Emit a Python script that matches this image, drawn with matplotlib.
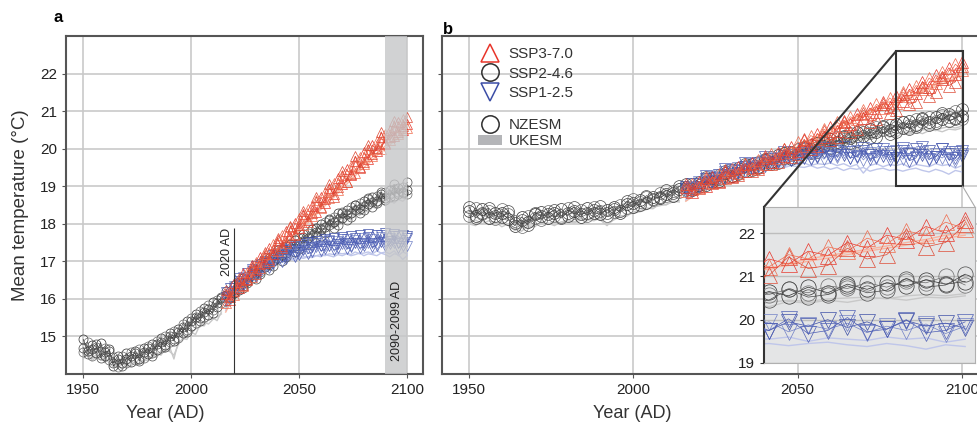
import numpy as np
import matplotlib.pyplot as plt
from matplotlib.patches import Rectangle, ConnectionPatch, Patch
from matplotlib.lines import Line2D

plt.rcParams['font.family'] = ['Liberation Sans', 'DejaVu Sans']

# years (every 2nd year)
yrs_hist = np.arange(1950, 2015, 2)   # 33 values
yrs_fut = np.arange(2016, 2101, 2)    # 43 values

# ---------------- panel a ----------------
a_hist_nz = [
    [14.92, 14.61, 14.78, 14.55, 14.83, 14.49, 14.66, 14.21, 14.40, 14.28,
     14.55, 14.33, 14.62, 14.41, 14.70, 14.52, 14.81, 14.63, 14.95, 14.77,
     15.08, 14.88, 15.21, 15.10, 15.42, 15.28, 15.60, 15.49, 15.75, 15.58,
     15.92, 15.79, 16.02],
    [14.58, 14.85, 14.47, 14.72, 14.51, 14.70, 14.38, 14.45, 14.19, 14.47,
     14.30, 14.58, 14.36, 14.66, 14.42, 14.74, 14.55, 14.88, 14.69, 15.02,
     14.86, 15.15, 14.97, 15.33, 15.18, 15.49, 15.36, 15.68, 15.51, 15.84,
     15.70, 15.97, 15.88],
    [14.70, 14.52, 14.66, 14.81, 14.43, 14.58, 14.62, 14.30, 14.48, 14.22,
     14.41, 14.49, 14.55, 14.35, 14.59, 14.68, 14.47, 14.79, 14.84, 14.72,
     15.01, 14.93, 15.12, 15.25, 15.11, 15.40, 15.52, 15.41, 15.66, 15.72,
     15.63, 15.90, 16.05],
]
a_hist_uk = [
    [14.55, 14.48, 14.40, 14.52, 14.37, 14.44, 14.30, 14.18, 14.25, 14.12,
     14.28, 14.20, 14.33, 14.26, 14.38, 14.35, 14.50, 14.44, 14.62, 14.58,
     14.72, 14.40, 14.85, 14.90, 15.02, 15.08, 15.20, 15.25, 15.38, 15.33,
     15.45, 15.52, 15.60],
    [14.40, 14.58, 14.35, 14.45, 14.50, 14.30, 14.42, 14.25, 14.15, 14.30,
     14.22, 14.35, 14.28, 14.40, 14.32, 14.48, 14.42, 14.55, 14.50, 14.68,
     14.60, 14.50, 14.78, 14.95, 14.92, 15.12, 15.05, 15.30, 15.28, 15.45,
     15.50, 15.42, 15.65],
]
a_fut_nz = {
    'ssp370': [
        [16.12, 15.98, 16.41, 16.30, 16.68, 16.52, 16.90, 16.78, 17.12, 16.95,
         17.35, 17.20, 17.58, 17.42, 17.80, 17.65, 18.02, 17.88, 18.25, 18.10,
         18.48, 18.32, 18.70, 18.55, 18.95, 18.80, 19.22, 19.05, 19.45, 19.30,
         19.68, 19.50, 19.90, 19.72, 20.10, 19.95, 20.30, 20.12, 20.50, 20.35,
         20.72, 20.50, 20.65],
        [15.90, 16.22, 16.10, 16.45, 16.35, 16.72, 16.58, 16.98, 16.82, 17.20,
         17.02, 17.45, 17.28, 17.70, 17.50, 17.92, 17.72, 18.15, 17.98, 18.40,
         18.20, 18.62, 18.42, 18.85, 18.68, 19.08, 18.90, 19.30, 19.12, 19.55,
         19.35, 19.78, 19.58, 19.98, 19.80, 20.20, 20.00, 20.40, 20.22, 20.58,
         20.40, 20.78, 20.55],
        [16.25, 16.05, 16.20, 16.55, 16.38, 16.50, 16.85, 16.65, 16.92, 17.25,
         17.05, 17.30, 17.62, 17.35, 17.55, 17.95, 17.70, 17.98, 18.35, 18.05,
         18.30, 18.72, 18.45, 18.65, 19.05, 18.72, 18.98, 19.40, 19.12, 19.32,
         19.80, 19.48, 19.65, 20.10, 19.85, 20.02, 20.45, 20.15, 20.32, 20.75,
         20.45, 20.60, 20.85],
    ],
    'ssp245': [
        [16.10, 16.02, 16.38, 16.25, 16.55, 16.48, 16.75, 16.68, 16.95, 16.85,
         17.10, 17.02, 17.30, 17.18, 17.42, 17.35, 17.58, 17.50, 17.72, 17.62,
         17.85, 17.78, 18.00, 17.92, 18.12, 18.05, 18.28, 18.15, 18.38, 18.30,
         18.50, 18.40, 18.60, 18.52, 18.72, 18.60, 18.80, 18.68, 18.90, 18.75,
         18.95, 18.82, 18.90],
        [15.95, 16.20, 16.15, 16.40, 16.35, 16.60, 16.55, 16.80, 16.72, 16.98,
         16.90, 17.15, 17.08, 17.30, 17.22, 17.45, 17.40, 17.62, 17.55, 17.75,
         17.70, 17.90, 17.85, 18.05, 17.98, 18.18, 18.12, 18.32, 18.25, 18.45,
         18.38, 18.55, 18.48, 18.65, 18.58, 18.75, 18.70, 18.85, 18.78, 18.92,
         18.85, 18.98, 18.80],
        [16.20, 16.05, 16.15, 16.45, 16.30, 16.42, 16.70, 16.52, 16.65, 16.95,
         16.78, 16.88, 17.20, 17.00, 17.12, 17.45, 17.25, 17.32, 17.65, 17.45,
         17.55, 17.88, 17.68, 17.75, 18.10, 17.88, 17.98, 18.30, 18.10, 18.18,
         18.50, 18.28, 18.38, 18.68, 18.45, 18.55, 18.85, 18.62, 18.70, 19.05,
         18.78, 18.85, 19.10],
    ],
    'ssp126': [
        [16.05, 16.30, 16.22, 16.48, 16.40, 16.70, 16.62, 16.88, 16.78, 17.02,
         16.95, 17.18, 17.08, 17.30, 17.15, 17.38, 17.25, 17.45, 17.30, 17.52,
         17.38, 17.55, 17.40, 17.60, 17.42, 17.62, 17.45, 17.65, 17.48, 17.68,
         17.50, 17.70, 17.48, 17.72, 17.50, 17.70, 17.52, 17.75, 17.55, 17.72,
         17.50, 17.70, 17.68],
        [15.95, 16.12, 16.35, 16.30, 16.58, 16.52, 16.75, 16.70, 16.92, 16.85,
         17.08, 17.00, 17.22, 17.12, 17.32, 17.20, 17.40, 17.28, 17.45, 17.35,
         17.50, 17.38, 17.55, 17.42, 17.58, 17.40, 17.55, 17.45, 17.60, 17.42,
         17.58, 17.45, 17.62, 17.48, 17.60, 17.45, 17.65, 17.50, 17.62, 17.48,
         17.68, 17.52, 17.40],
        [16.18, 16.02, 16.30, 16.55, 16.35, 16.50, 16.80, 16.58, 16.70, 16.95,
         16.82, 16.92, 17.20, 16.98, 17.05, 17.30, 17.12, 17.18, 17.42, 17.20,
         17.25, 17.50, 17.28, 17.32, 17.55, 17.30, 17.35, 17.60, 17.32, 17.38,
         17.62, 17.35, 17.40, 17.65, 17.38, 17.42, 17.70, 17.40, 17.45, 17.68,
         17.35, 17.42, 17.62],
    ],
}
a_fut_uk = {
    'ssp370': [
        [15.80, 15.95, 16.05, 16.20, 16.32, 16.45, 16.55, 16.70, 16.82, 16.90,
         17.05, 17.15, 17.28, 17.40, 17.48, 17.62, 17.75, 17.82, 17.98, 18.08,
         18.20, 18.30, 18.42, 18.55, 18.65, 18.80, 18.88, 19.02, 19.12, 19.25,
         19.35, 19.45, 19.58, 19.65, 19.78, 19.88, 19.95, 20.08, 20.15, 20.25,
         20.35, 20.42, 20.50],
        [15.65, 15.88, 15.98, 16.12, 16.25, 16.38, 16.50, 16.62, 16.75, 16.85,
         16.98, 17.10, 17.22, 17.32, 17.45, 17.55, 17.68, 17.78, 17.90, 18.02,
         18.12, 18.25, 18.38, 18.48, 18.60, 18.70, 18.82, 18.95, 19.05, 19.18,
         19.28, 19.40, 19.50, 19.60, 19.70, 19.82, 19.90, 20.00, 20.10, 20.20,
         20.28, 20.38, 20.45],
    ],
    'ssp245': [
        [15.75, 15.92, 16.00, 16.15, 16.25, 16.35, 16.45, 16.55, 16.65, 16.75,
         16.85, 16.95, 17.02, 17.12, 17.20, 17.28, 17.35, 17.45, 17.50, 17.60,
         17.65, 17.75, 17.80, 17.88, 17.95, 18.02, 18.08, 18.15, 18.20, 18.28,
         18.32, 18.38, 18.42, 18.48, 18.52, 18.58, 18.60, 18.65, 18.68, 18.72,
         18.70, 18.78, 18.75],
        [15.85, 15.80, 16.08, 16.05, 16.30, 16.28, 16.50, 16.48, 16.70, 16.65,
         16.90, 16.85, 17.08, 17.00, 17.25, 17.18, 17.40, 17.35, 17.55, 17.48,
         17.70, 17.62, 17.82, 17.75, 17.95, 17.88, 18.05, 18.00, 18.18, 18.10,
         18.28, 18.22, 18.38, 18.30, 18.45, 18.40, 18.55, 18.48, 18.62, 18.55,
         18.65, 18.60, 18.70],
    ],
    'ssp126': [
        [15.80, 15.95, 16.08, 16.20, 16.32, 16.45, 16.52, 16.62, 16.70, 16.78,
         16.85, 16.90, 16.95, 17.00, 17.02, 17.05, 17.08, 17.10, 17.12, 17.12,
         17.15, 17.15, 17.18, 17.15, 17.20, 17.18, 17.22, 17.20, 17.22, 17.18,
         17.25, 17.20, 17.22, 17.25, 17.20, 17.28, 17.22, 17.25, 17.20, 17.28,
         17.15, 17.25, 17.20],
        [15.70, 15.85, 16.00, 16.12, 16.25, 16.38, 16.48, 16.55, 16.65, 16.72,
         16.78, 16.88, 16.92, 16.98, 17.00, 17.05, 17.02, 17.10, 17.08, 17.12,
         17.10, 17.15, 17.12, 17.18, 17.15, 17.12, 17.18, 17.15, 17.20, 17.15,
         17.18, 17.22, 17.15, 17.20, 17.18, 17.15, 17.22, 17.18, 17.12, 17.20,
         17.18, 17.05, 17.15],
    ],
}

# ---------------- panel b ----------------
b_hist_nz = [
    [18.35, 18.22, 18.40, 18.15, 18.30, 18.28, 18.12, 17.95, 18.18, 18.05,
     18.25, 18.32, 18.15, 18.28, 18.40, 18.22, 18.35, 18.18, 18.42, 18.30,
     18.25, 18.38, 18.45, 18.30, 18.52, 18.45, 18.62, 18.55, 18.72, 18.68,
     18.80, 18.75, 18.92],
    [18.20, 18.42, 18.25, 18.35, 18.12, 18.40, 18.25, 18.08, 17.92, 18.22,
     18.15, 18.10, 18.35, 18.20, 18.18, 18.42, 18.28, 18.38, 18.22, 18.45,
     18.35, 18.20, 18.32, 18.50, 18.42, 18.65, 18.58, 18.70, 18.62, 18.82,
     18.75, 18.88, 18.85],
    [18.45, 18.15, 18.30, 18.42, 18.22, 18.18, 18.35, 18.02, 18.10, 17.98,
     18.30, 18.20, 18.25, 18.38, 18.15, 18.30, 18.45, 18.25, 18.30, 18.38,
     18.48, 18.28, 18.40, 18.35, 18.60, 18.55, 18.50, 18.75, 18.65, 18.72,
     18.90, 18.82, 19.00],
]
b_hist_uk = [
    [18.05, 18.10, 18.00, 18.08, 18.02, 18.05, 17.95, 17.82, 17.90, 17.88,
     17.98, 18.00, 18.02, 17.95, 18.05, 18.08, 18.02, 18.10, 18.12, 18.08,
     18.15, 18.00, 18.10, 18.18, 18.25, 18.28, 18.32, 18.38, 18.45, 18.48,
     18.52, 18.58, 18.62],
    [18.00, 17.95, 18.08, 17.98, 18.05, 17.92, 18.00, 17.88, 17.80, 17.95,
     17.92, 18.05, 17.98, 18.08, 18.00, 18.12, 18.05, 18.15, 18.08, 18.18,
     18.10, 17.95, 18.12, 18.22, 18.20, 18.32, 18.35, 18.42, 18.40, 18.52,
     18.50, 18.60, 18.58],
]
b_fut_nz = {
    'ssp370': [
        [18.98, 18.85, 19.12, 19.00, 19.25, 19.15, 19.38, 19.28, 19.50, 19.40,
         19.62, 19.52, 19.75, 19.65, 19.88, 19.80, 20.05, 19.95, 20.22, 20.12,
         20.40, 20.30, 20.58, 20.48, 20.75, 20.65, 20.92, 20.82, 21.08, 20.98,
         21.25, 21.12, 21.40, 21.28, 21.58, 21.48, 21.78, 21.65, 21.95, 21.85,
         22.15, 22.00, 22.30],
        [18.88, 19.05, 18.98, 19.20, 19.10, 19.32, 19.22, 19.45, 19.35, 19.58,
         19.48, 19.70, 19.60, 19.85, 19.75, 20.00, 19.90, 20.18, 20.08, 20.35,
         20.25, 20.52, 20.42, 20.70, 20.60, 20.85, 20.78, 21.02, 20.92, 21.18,
         21.08, 21.35, 21.22, 21.50, 21.40, 21.68, 21.58, 21.88, 21.75, 22.05,
         21.95, 22.25, 22.10],
        [19.05, 18.92, 18.95, 19.25, 19.08, 19.12, 19.42, 19.25, 19.30, 19.60,
         19.40, 19.45, 19.80, 19.58, 19.65, 20.00, 19.78, 19.85, 20.25, 20.00,
         20.08, 20.48, 20.22, 20.30, 20.72, 20.45, 20.52, 20.95, 20.70, 20.78,
         21.20, 20.95, 21.02, 21.45, 21.18, 21.25, 21.65, 21.40, 21.50, 21.92,
         21.68, 21.78, 22.20],
    ],
    'ssp245': [
        [18.98, 18.90, 19.10, 19.02, 19.22, 19.15, 19.35, 19.28, 19.48, 19.40,
         19.60, 19.52, 19.70, 19.65, 19.82, 19.75, 19.92, 19.88, 20.05, 19.98,
         20.15, 20.08, 20.25, 20.18, 20.35, 20.28, 20.45, 20.35, 20.52, 20.45,
         20.60, 20.50, 20.65, 20.55, 20.75, 20.62, 20.82, 20.70, 20.85, 20.78,
         20.92, 20.82, 20.88],
        [18.90, 19.05, 18.98, 19.18, 19.10, 19.30, 19.22, 19.42, 19.35, 19.55,
         19.48, 19.65, 19.60, 19.78, 19.72, 19.88, 19.82, 20.00, 19.92, 20.10,
         20.05, 20.20, 20.15, 20.32, 20.25, 20.42, 20.35, 20.50, 20.42, 20.58,
         20.50, 20.62, 20.58, 20.70, 20.62, 20.78, 20.72, 20.85, 20.75, 20.90,
         20.85, 21.00, 20.80],
        [19.05, 18.95, 19.02, 19.25, 19.12, 19.18, 19.40, 19.28, 19.32, 19.58,
         19.42, 19.48, 19.72, 19.58, 19.62, 19.88, 19.72, 19.78, 20.02, 19.88,
         19.92, 20.15, 20.02, 20.08, 20.30, 20.15, 20.20, 20.45, 20.28, 20.32,
         20.58, 20.40, 20.45, 20.70, 20.52, 20.58, 20.78, 20.62, 20.68, 20.95,
         20.75, 20.80, 21.05],
    ],
    'ssp126': [
        [18.92, 19.05, 18.98, 19.18, 19.10, 19.30, 19.22, 19.42, 19.35, 19.52,
         19.45, 19.62, 19.55, 19.72, 19.65, 19.80, 19.70, 19.85, 19.75, 19.90,
         19.78, 19.92, 19.80, 19.95, 19.82, 19.90, 19.78, 19.95, 19.82, 19.98,
         19.80, 19.92, 19.75, 19.95, 19.85, 20.00, 19.82, 19.95, 19.78, 19.98,
         19.85, 19.92, 19.80],
        [18.85, 18.95, 19.10, 19.05, 19.25, 19.18, 19.38, 19.30, 19.48, 19.40,
         19.58, 19.50, 19.68, 19.60, 19.75, 19.68, 19.82, 19.72, 19.88, 19.75,
         19.90, 19.72, 19.88, 19.78, 19.92, 19.75, 19.95, 19.70, 19.88, 19.75,
         19.90, 19.80, 19.95, 19.72, 19.88, 19.78, 19.92, 19.70, 19.85, 19.75,
         19.90, 19.68, 19.85],
        [18.98, 18.88, 19.05, 19.28, 19.15, 19.22, 19.45, 19.32, 19.40, 19.62,
         19.48, 19.55, 19.78, 19.62, 19.68, 19.92, 19.70, 19.75, 19.98, 19.72,
         19.80, 20.02, 19.78, 19.82, 20.05, 19.75, 19.80, 20.02, 19.72, 19.78,
         20.00, 19.70, 19.75, 20.02, 19.68, 19.75, 20.05, 19.72, 19.78, 20.00,
         19.70, 19.75, 19.95],
    ],
}
b_fut_uk = {
    'ssp370': [
        [18.70, 18.80, 18.88, 18.98, 19.05, 19.12, 19.20, 19.28, 19.35, 19.42,
         19.50, 19.58, 19.65, 19.72, 19.80, 19.90, 19.98, 20.05, 20.15, 20.25,
         20.32, 20.42, 20.50, 20.60, 20.68, 20.78, 20.85, 20.95, 21.02, 21.12,
         21.18, 21.25, 21.15, 21.30, 21.40, 21.48, 21.55, 21.62, 21.70, 21.78,
         21.85, 21.95, 22.00],
        [18.60, 18.72, 18.80, 18.90, 18.98, 19.05, 19.15, 19.22, 19.30, 19.38,
         19.45, 19.52, 19.60, 19.68, 19.75, 19.82, 19.92, 20.00, 20.08, 20.18,
         20.25, 20.35, 20.42, 20.52, 20.60, 20.70, 20.78, 20.88, 20.95, 21.05,
         21.12, 21.05, 21.20, 21.25, 21.35, 21.42, 21.50, 21.58, 21.65, 21.72,
         21.80, 21.88, 21.95],
    ],
    'ssp245': [
        [18.70, 18.80, 18.88, 18.95, 19.05, 19.12, 19.20, 19.28, 19.35, 19.42,
         19.48, 19.55, 19.60, 19.68, 19.72, 19.80, 19.85, 19.90, 19.95, 20.00,
         20.05, 20.10, 20.15, 20.18, 20.22, 20.25, 20.30, 20.32, 20.35, 20.38,
         20.42, 20.30, 20.40, 20.45, 20.42, 20.48, 20.50, 20.52, 20.48, 20.55,
         20.58, 20.55, 20.60],
        [18.62, 18.75, 18.82, 18.92, 18.98, 19.08, 19.15, 19.22, 19.30, 19.35,
         19.42, 19.48, 19.55, 19.60, 19.65, 19.72, 19.78, 19.82, 19.88, 19.92,
         19.98, 20.02, 20.08, 20.12, 20.15, 20.18, 20.22, 20.25, 20.28, 20.32,
         20.35, 20.38, 20.30, 20.42, 20.38, 20.45, 20.40, 20.48, 20.50, 20.45,
         20.52, 20.50, 20.55],
    ],
    'ssp126': [
        [18.70, 18.82, 18.90, 19.00, 19.08, 19.15, 19.22, 19.30, 19.35, 19.40,
         19.45, 19.48, 19.52, 19.55, 19.58, 19.55, 19.60, 19.58, 19.62, 19.55,
         19.60, 19.58, 19.62, 19.55, 19.60, 19.52, 19.58, 19.35, 19.55, 19.60,
         19.52, 19.58, 19.55, 19.60, 19.50, 19.58, 19.55, 19.52, 19.60, 19.55,
         19.58, 19.48, 19.55],
        [18.65, 18.75, 18.85, 18.95, 19.02, 19.10, 19.18, 19.25, 19.30, 19.35,
         19.40, 19.45, 19.48, 19.50, 19.52, 19.50, 19.55, 19.52, 19.50, 19.55,
         19.48, 19.52, 19.45, 19.50, 19.42, 19.48, 19.45, 19.50, 19.40, 19.45,
         19.48, 19.42, 19.45, 19.40, 19.45, 19.48, 19.42, 19.38, 19.45, 19.40,
         19.32, 19.42, 19.38],
    ],
}

scen_order = ['ssp370', 'ssp245', 'ssp126']
scen_labels = {'ssp370': 'SSP3-7.0', 'ssp245': 'SSP2-4.6', 'ssp126': 'SSP1-2.5'}
markers = {'ssp370': '^', 'ssp245': 'o', 'ssp126': 'v'}
nz_cols = {'ssp370': ['#e8352a', '#f06a4c', '#dd4a35'],
           'ssp245': ['#2e2e2e', '#6b6b6b', '#474747'],
           'ssp126': ['#3b4da6', '#7080c6', '#4d5eb5']}
uk_cols = {'ssp370': '#f8b4a0', 'ssp245': '#c8c8c8', 'ssp126': '#bfc6ea'}
FRAME = '#555555'
GRID = '#c9c9c9'


def draw_runs(ax, hist_nz, hist_uk, fut_nz, fut_uk, ms):
    for vals in hist_uk:
        ax.plot(yrs_hist, vals, color=uk_cols['ssp245'], lw=1.0, zorder=2)
    for key in ['ssp245', 'ssp126', 'ssp370']:
        for vals in fut_uk[key]:
            ax.plot(yrs_fut, vals, color=uk_cols[key], lw=1.0, zorder=2)
    for i, vals in enumerate(hist_nz):
        c = nz_cols['ssp245'][i % 3]
        ax.plot(yrs_hist, vals, color=c, lw=0.5, marker='o', ms=ms,
                mfc='none', mec=c, mew=0.5, zorder=3)
    for key in ['ssp245', 'ssp126', 'ssp370']:
        for i, vals in enumerate(fut_nz[key]):
            c = nz_cols[key][i % 3]
            ax.plot(yrs_fut, vals, color=c, lw=0.5, marker=markers[key], ms=ms,
                    mfc='none', mec=c, mew=0.5, zorder=3)


def style(ax):
    ax.grid(True, color=GRID, lw=1.2, zorder=0)
    ax.set_axisbelow(True)
    for s in ax.spines.values():
        s.set_color(FRAME)
        s.set_linewidth(1.5)
    ax.tick_params(labelsize=11, color=FRAME, length=3, labelcolor='#222222')


fig = plt.figure(figsize=(9.77, 4.22), dpi=100)

# panel a
ax_a = fig.add_axes([66 / 977, 48 / 422, 357 / 977, 338 / 422])
draw_runs(ax_a, a_hist_nz, a_hist_uk, a_fut_nz, a_fut_uk, ms=6.5)
ax_a.set_xlim(1942, 2107.4)
ax_a.set_ylim(14.0, 23.0)
ax_a.set_xticks([1950, 2000, 2050, 2100])
ax_a.set_yticks(range(15, 23))
style(ax_a)
ax_a.axvspan(2090, 2100, color='#c6c7c9', alpha=0.8, lw=0, zorder=4)
ax_a.vlines(2020, 14.0, 17.9, color='#333333', lw=0.8, zorder=5)
ax_a.text(2016.6, 17.9, '2020 AD', rotation=90, ha='center', va='top',
          fontsize=9, color='#222222', zorder=6)
ax_a.text(2095.2, 14.35, '2090-2099 AD', rotation=90, ha='center', va='bottom',
          fontsize=9, color='#222222', zorder=6)
ax_a.set_xlabel('Year (AD)', fontsize=13, labelpad=6, color='#333333')
ax_a.xaxis.label.set_x((165 - 66) / 357)
ax_a.set_ylabel('Mean temperature (°C)', fontsize=13.5, labelpad=8, color='#333333')

# panel b
ax_b = fig.add_axes([442 / 977, 48 / 422, 538 / 977, 338 / 422])
draw_runs(ax_b, b_hist_nz, b_hist_uk, b_fut_nz, b_fut_uk, ms=8.5)
ax_b.set_xlim(1941.8, 2105.5)
ax_b.set_ylim(14.0, 23.0)
ax_b.set_xticks([1950, 2000, 2050, 2100])
ax_b.set_yticks(range(15, 23))
ax_b.set_yticklabels([])
style(ax_b)
ax_b.spines['right'].set_visible(False)
ax_b.set_xlabel('Year (AD)', fontsize=13, labelpad=6, color='#333333')
ax_b.xaxis.label.set_x((632 - 442) / 538)

# zoom box and inset
ax_b.add_patch(Rectangle((2080, 19.0), 20.2, 3.6, fill=False, ec='#333333',
                         lw=1.5, zorder=6))
ax_in = fig.add_axes([764 / 977, 59 / 422, 211 / 977, 156 / 422])
ax_in.set_facecolor('#e4e5e6')
draw_runs(ax_in, b_hist_nz, b_hist_uk, b_fut_nz, b_fut_uk, ms=11)
ax_in.set_xlim(2079.5, 2101)
ax_in.set_ylim(19.0, 22.6)
ax_in.set_xticks([])
ax_in.set_yticks([19, 20, 21, 22])
ax_in.grid(True, axis='y', color='#bdbdbd', lw=1.0, zorder=0)
ax_in.set_axisbelow(True)
for s in ax_in.spines.values():
    s.set_color('#b0b0b0')
    s.set_linewidth(0.8)
ax_in.spines['left'].set_color('#333333')
ax_in.spines['left'].set_linewidth(1.5)
ax_in.tick_params(labelsize=11, color='#333333', length=3, labelcolor='#222222')

fig.add_artist(ConnectionPatch(xyA=(2080, 22.6), coordsA=ax_b.transData,
                               xyB=(0, 1), coordsB=ax_in.transAxes,
                               color='#333333', lw=1.5, zorder=7))
fig.add_artist(ConnectionPatch(xyA=(2100.2, 19.0), coordsA=ax_b.transData,
                               xyB=(1, 1), coordsB=ax_in.transAxes,
                               color='#aaaaaa', lw=0.8, zorder=7))

# legends
h_scen = [Line2D([], [], ls='none', marker=markers[k], ms=12.5, mfc='none',
                 mec=nz_cols[k][0], mew=1.1) for k in scen_order]
leg1 = ax_b.legend(h_scen, [scen_labels[k] for k in scen_order],
                   loc='upper left', bbox_to_anchor=(0.067, 0.967), frameon=False,
                   fontsize=11, handlelength=1.6, handletextpad=0.4,
                   labelspacing=0.35, borderpad=0, borderaxespad=0)
for t in leg1.get_texts():
    t.set_color('#333333')
ax_b.add_artist(leg1)
h_mod = [Line2D([], [], ls='none', marker='o', ms=12.5, mfc='none', mec='#2e2e2e', mew=1.1),
         Patch(facecolor='#b4b5b8', edgecolor='none')]
leg2 = ax_b.legend(h_mod, ['NZESM', 'UKESM'], loc='upper left',
                   bbox_to_anchor=(0.067, 0.757), frameon=False, fontsize=11,
                   handlelength=1.6, handleheight=0.6, handletextpad=0.4,
                   labelspacing=0.15, borderpad=0, borderaxespad=0)
for t in leg2.get_texts():
    t.set_color('#333333')

fig.text(53 / 977, 1 - 18 / 422, 'a', fontsize=12, fontweight='bold', va='center')
fig.text(443 / 977, 1 - 29 / 422, 'b', fontsize=12, fontweight='bold', va='center')

fig.savefig('out.png', dpi=100)
